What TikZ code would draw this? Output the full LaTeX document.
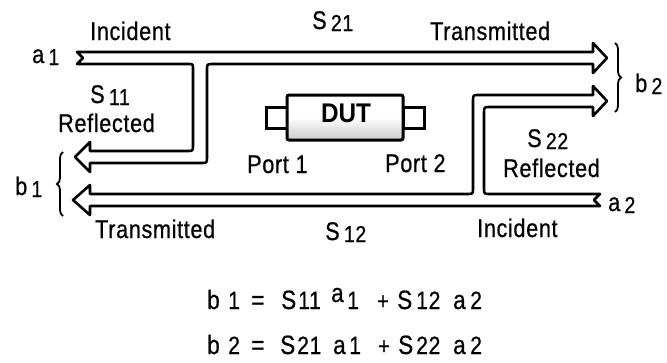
\documentclass[tikz,border=0pt]{standalone}
\usepackage{fontspec}
\setmainfont{Liberation Sans}
\newfontfamily\lblfont[FakeStretch=0.85, LetterSpace=2.5, FakeBold=0.6]{Liberation Sans}
\newfontfamily\dutfont[FakeStretch=0.9]{Liberation Sans}
\usetikzlibrary{decorations.pathreplacing}
\newcommand\mysub[1]{\raisebox{-2pt}{\fontsize{23}{24}\selectfont #1}}
\begin{document}
\begin{tikzpicture}[x=1pt,y=-1pt,
  band/.style={line width=2.6pt, line join=round},
  lbl/.style={font=\lblfont\fontsize{25.5}{27}\selectfont, inner sep=0pt, anchor=base west},
  eq/.style={font=\lblfont\fontsize{26.5}{28}\selectfont, inner sep=0pt, anchor=base west},
  eqd/.style={font=\lblfont\fontsize{25}{27}\selectfont, inner sep=0pt, anchor=base west},
  eqp/.style={font=\lblfont\fontsize{23.5}{25}\selectfont, inner sep=0pt, anchor=base west},
  brc/.style={line width=1.8pt, decorate, decoration={brace, amplitude=6pt}},
  port/.style={line width=3pt, fill=white},
  ]
\useasboundingbox (0,0) rectangle (667,362);

% top arrow with S11 branch
\draw[band] (77,52) -- (593,52) -- (593,43) -- (607,58) -- (593,73) -- (593,64)
  -- (213,64) .. controls (207,64) .. (207,70)
  -- (207,157) .. controls (207,163) .. (201,163)
  -- (90,163) -- (90,172) -- (75,157) -- (90,142) -- (90,151)
  -- (187,151) .. controls (193,151) .. (193,145)
  -- (193,69) .. controls (193,64) .. (188,64)
  -- (77,64) -- (83,58) -- cycle;

% bottom arrow with S22 branch
\draw[band] (600,194)
  -- (490,194) .. controls (484,194) .. (484,188)
  -- (484,113) .. controls (484,107) .. (490,107)
  -- (593,107) -- (593,116) -- (607,101) -- (593,86) -- (593,95)
  -- (479,95) .. controls (473,95) .. (473,101)
  -- (473,188) .. controls (473,194) .. (467,194)
  -- (90,194) -- (90,185) -- (73,200) -- (90,215) -- (90,206)
  -- (600,206) -- (594,200) -- cycle;

% braces
\coordinate (b2t) at (615,43);
\coordinate (b2b) at (615,112);
\coordinate (b1t) at (63,152);
\coordinate (b1b) at (63,216);
\draw[brc] (b2t) -- (b2b);
\draw[brc] (b1b) -- (b1t);

% DUT
\draw[port] (266,107) rectangle (287,128);
\draw[port] (403,107) rectangle (424,128);
\draw[line width=3pt, top color=white, bottom color=gray!40, middle color=white, rounded corners=2pt] (287,95) rectangle (403,140);
\node[font=\dutfont\fontsize{27}{29}\selectfont\bfseries, inner sep=0pt] (dut) at (346,113) {DUT};

% labels
\node[lbl] (inc1) at (90,40) {Incident};
\node[lbl] (s21) at (312,29) {S\,\mysub{21}};
\node[lbl] (tr1) at (430,40) {Transmitted};
\node[lbl] (s11) at (90,103) {S\,\mysub{11}};
\node[lbl] (re1) at (58,132) {Reflected};
\node[lbl] (p1) at (247,173) {Port 1};
\node[lbl] (p2) at (385,172) {Port 2};
\node[lbl] (s22) at (527,147) {S\,\mysub{22}};
\node[lbl] (re2) at (503,177) {Reflected};
\node[lbl] (a1) at (32,63) {a\,\mysub{1}};
\node[lbl] (a2) at (608,211) {a\,\mysub{2}};
\node[lbl] (b2) at (635,92) {b\,\mysub{2}};
\node[lbl] (b1) at (15,195) {b\,\mysub{1}};
\node[lbl] (tr2) at (95,238) {Transmitted};
\node[lbl] (s12) at (325,240) {S\,\mysub{12}};
\node[lbl] (inc2) at (477,237) {Incident};

% equations
\foreach \x/\t/\s [count=\i] in {207/b/eq,228/1/eqd,251/=/eq,281/S/eq,298/11/eqd,347/1/eqd,377/+/eqp,397/S/eq,416/12/eqd,453/a/eq,470/2/eqd}
  \node[\s] (ea\i) at (\x,309) {\t};
\node[eq] (eaa) at (331,302) {a};
\foreach \x/\t/\s [count=\i] in {207/b/eq,228/2/eqd,251/=/eq,280/S/eq,297/21/eqd,333/a/eq,349/1/eqd,378/+/eqp,398/S/eq,416/22/eqd,453/a/eq,470/2/eqd}
  \node[\s] (eb\i) at (\x,354) {\t};
\end{tikzpicture}
\end{document}
